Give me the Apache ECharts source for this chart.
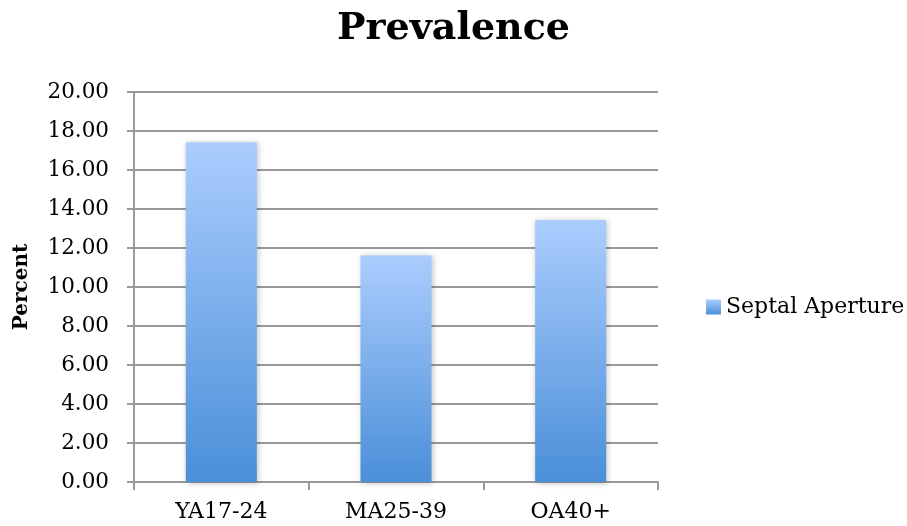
<!DOCTYPE html>
<html><head><meta charset="utf-8">
<script src="https://cdn.jsdelivr.net/npm/echarts@6/dist/echarts.min.js"></script>
<style>html,body{margin:0;padding:0;background:#fff}#c{width:907px;height:526px}</style>
</head><body><div id="c"></div>
<script>
const categories = ['YA17-24', 'MA25-39', 'OA40+'];
const seriesName = 'Septal Aperture';
const values = [17.42, 11.62, 13.43];
const yMin = 0, yMax = 20, yStep = 2;

const chart = echarts.init(document.getElementById('c'));
const serif = 'DejaVu Serif';
chart.setOption({
  animation: false,
  backgroundColor: '#fff',
  title: { text: 'Prevalence', left: 'center', top: 5,
    textStyle: { fontFamily: serif, fontWeight: 'bold', fontSize: 38, color: '#000' } },
  legend: { orient: 'vertical', left: 701, top: 291, itemWidth: 15, itemHeight: 15, itemGap: 6,
    textStyle: { fontFamily: serif, fontSize: 22, color: '#000' },
    data: [{ name: seriesName, icon: 'rect' }] },
  grid: { left: 134, right: 249, top: 92, bottom: 44, containLabel: false },
  xAxis: { type: 'category', data: categories,
    axisLine: { lineStyle: { color: '#999', width: 2 } },
    axisTick: { show: true, length: 8, lineStyle: { color: '#999', width: 2 } },
    axisLabel: { fontFamily: serif, fontSize: 22, color: '#000', margin: 19 } },
  yAxis: { type: 'value', min: yMin, max: yMax, interval: yStep,
    name: 'Percent', nameLocation: 'middle', nameGap: 102, nameRotate: 90,
    nameTextStyle: { fontFamily: serif, fontWeight: 'bold', fontSize: 20, color: '#000' },
    axisLine: { show: true, lineStyle: { color: '#999', width: 2 } },
    axisTick: { show: true, length: 7, lineStyle: { color: '#999', width: 2 } },
    axisLabel: { fontFamily: serif, fontSize: 21.5, color: '#000', margin: 25,
      formatter: v => v.toFixed(2) },
    splitLine: { lineStyle: { color: '#999', width: 2 } } },
  series: [{ name: seriesName, type: 'bar', data: values, barWidth: 71,
    itemStyle: {
      color: new echarts.graphic.LinearGradient(0, 0, 0, 1, [
        { offset: 0, color: '#abcdfe' }, { offset: 1, color: '#4a8fd8' }]),
      shadowBlur: 6, shadowColor: 'rgba(0,0,0,0.25)', shadowOffsetX: 1, shadowOffsetY: 1 } }]
});
</script></body></html>
